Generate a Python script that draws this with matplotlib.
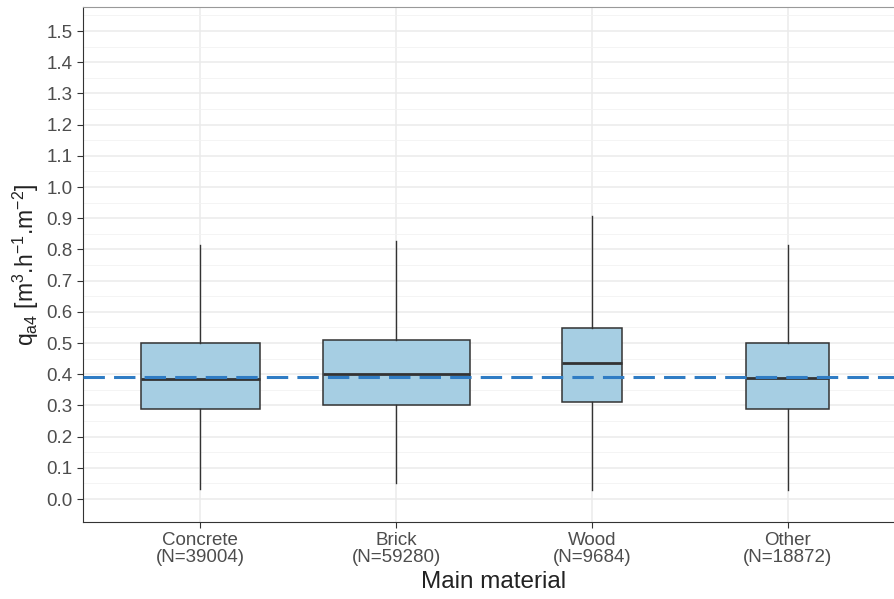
import numpy as np
import matplotlib
matplotlib.use("Agg")
from matplotlib import pyplot as plt

plt.rcParams['font.family'] = ['Liberation Sans', 'DejaVu Sans']
plt.rcParams['mathtext.fontset'] = 'custom'
plt.rcParams['mathtext.rm'] = 'Liberation Sans'
plt.rcParams['mathtext.it'] = 'Liberation Sans'
plt.rcParams['mathtext.default'] = 'regular'

# Dane
materials = ['Concrete', 'Brick', 'Wood', 'Other']
counts = [39004, 59280, 9684, 18872]
whisker_low = [0.031, 0.050, 0.028, 0.029]
q1 = [0.289, 0.300, 0.311, 0.289]
medians = [0.384, 0.401, 0.435, 0.389]
q3 = [0.499, 0.509, 0.549, 0.499]
whisker_high = [0.814, 0.826, 0.908, 0.814]
overall_median = 0.392

GRID = '#ebebeb'
DARK = '#333333'

fig = plt.figure(figsize=(8.94, 5.99), dpi=100)
ax = fig.add_axes([83/894, 77/599, 822/894, 515/599])  # prawa krawedz panelu wychodzi poza obraz

# szerokosc pudelek ~ sqrt(N) (jak varwidth w ggplot)
widths = 0.75*np.sqrt(np.array(counts)/max(counts))
stats = [dict(med=m, q1=a, q3=b, whislo=lo, whishi=hi, fliers=[])
         for m, a, b, lo, hi in zip(medians, q1, q3, whisker_low, whisker_high)]
positions = np.arange(1, len(materials)+1)
ax.bxp(stats, positions=positions, widths=widths, patch_artist=True, showcaps=False,
       boxprops=dict(facecolor='#a6cee3', edgecolor=DARK, linewidth=1.1),
       medianprops=dict(color=DARK, linewidth=2.0),
       whiskerprops=dict(color=DARK, linewidth=1.0), zorder=3)

ax.axhline(overall_median, color='#2f7cc4', lw=2.2, dashes=(7, 3), zorder=4)

ax.set_xlim(0.4, 4.6)
ax.set_ylim(-0.0737, 1.577)
ax.set_yticks(np.round(np.arange(0, 1.51, 0.1), 1))
ax.set_yticks(np.arange(0.05, 1.6, 0.1), minor=True)
ax.set_xticks(positions)
ax.set_xticklabels([f'{m}\n(N={n})' for m, n in zip(materials, counts)], linespacing=1.05)
ax.tick_params(axis='both', which='major', labelsize=13.5, labelcolor='#4d4d4d',
               color=DARK, length=4, width=0.8)
ax.tick_params(axis='x', pad=3)
ax.tick_params(axis='y', which='minor', length=0)
ax.grid(True, which='major', color=GRID, lw=1.1, zorder=0)
ax.grid(True, which='minor', axis='y', color='#f2f2f2', lw=0.6, zorder=0)
ax.set_axisbelow(True)
for s in ax.spines.values():
    s.set_color(DARK)
    s.set_linewidth(0.8)
ax.spines['top'].set_color('#999999')

ax.set_xlabel('Main material', fontsize=17.5, color='#222222', labelpad=3)
ax.set_ylabel(r'q$_{a4}$ [m$^3$.h$^{-1}$.m$^{-2}$]', fontsize=16.5, color='#222222', labelpad=4)

plt.savefig('out.png', dpi=100)
plt.close()
